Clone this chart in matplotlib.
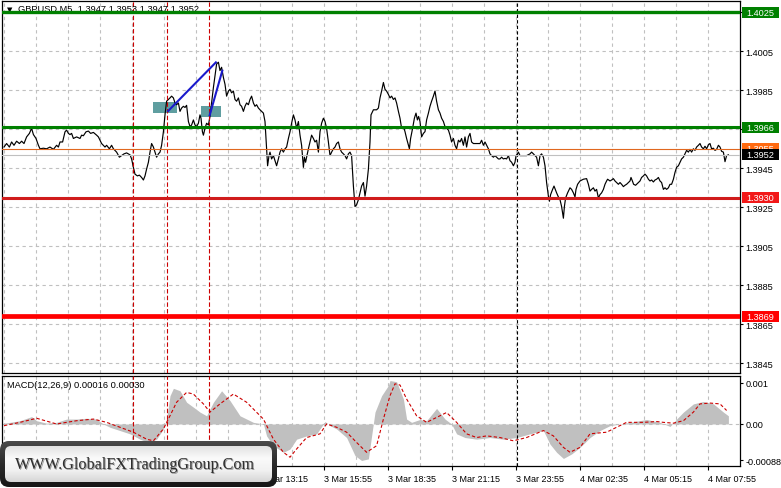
import matplotlib
matplotlib.use("Agg")
import matplotlib.pyplot as plt
import numpy as np
from matplotlib.transforms import blended_transform_factory
from matplotlib.patches import FancyBboxPatch, Rectangle
from matplotlib.colors import LinearSegmentedColormap

plt.rcParams['font.family'] = ['Liberation Sans', 'DejaVu Sans']

W, H = 781, 489

# ---------------- data ----------------
symbol_header = "GBPUSD,M5  1.3947 1.3953 1.3947 1.3952"
macd_header = "MACD(12,26,9) 0.00016 0.00030"
watermark = "WWW.GlobalFXTradingGroup.Com"

# (bar index, close) - bar 0 = 3 Mar 02:35, M5 bars
price_path_1 = [
    (0, 1.39559), (1.3, 1.39577), (2.7, 1.39559), (3.8, 1.39585), (5, 1.39568), (6.3, 1.39589),
    (7.7, 1.39577), (8.8, 1.39589), (10, 1.39577), (11.3, 1.39611), (12.7, 1.39629), (13.8, 1.39655),
    (14.7, 1.39623), (16, 1.39603), (17.2, 1.39568), (18, 1.39550), (19.7, 1.39553), (21.3, 1.39550),
    (23, 1.39559), (24.7, 1.39547), (26.3, 1.39568), (27.2, 1.39559), (28, 1.39585), (29.3, 1.39585),
    (30.5, 1.39637), (31.3, 1.39646), (32.2, 1.39629), (33, 1.39623), (33.8, 1.39629), (34.7, 1.39603),
    (36.3, 1.39611), (38, 1.39603), (38.8, 1.39620), (39.7, 1.39617), (41, 1.39637), (42.2, 1.39641),
    (43.3, 1.39629), (44.7, 1.39634), (46.3, 1.39620), (47.2, 1.39611), (48, 1.39594), (48.8, 1.39577),
    (50.5, 1.39559), (51.3, 1.39568), (52.7, 1.39550), (53.8, 1.39568), (54.7, 1.39550), (56.3, 1.39533),
    (57.7, 1.39507), (58.8, 1.39515), (60, 1.39524), (61.3, 1.39529), (63, 1.39519), (63.8, 1.39498),
    (64.7, 1.39455), (65.5, 1.39420), (66.7, 1.39411), (67.7, 1.39415), (68.8, 1.39403), (69.7, 1.39390),
    (70.5, 1.39411), (71.3, 1.39446), (72.2, 1.39481), (73, 1.39533), (73.8, 1.39577), (74.7, 1.39559),
    (75.5, 1.39533), (76.3, 1.39507), (77.2, 1.39524), (78, 1.39533), (78.8, 1.39568), (79.7, 1.39637),
    (80.5, 1.39724), (81.3, 1.39794), (82.2, 1.39803), (83, 1.39811), (83.8, 1.39820), (84.7, 1.39811),
    (85.5, 1.39785), (86.3, 1.39776), (87.2, 1.39785), (88, 1.39742), (88.8, 1.39759), (89.7, 1.39768),
    (90.5, 1.39762), (91.3, 1.39773),
]
price_path_2 = [
    (92.2, 1.39690), (93, 1.39664), (93.8, 1.39672), (94.7, 1.39698), (95.5, 1.39672), (96.3, 1.39664),
    (97.2, 1.39681), (98, 1.39724), (98.5, 1.39707), (99.2, 1.39638), (99.7, 1.39620), (100.5, 1.39655),
    (101.3, 1.39681), (102.2, 1.39672), (103, 1.39716), (103.8, 1.39785), (104.7, 1.39864), (105.5, 1.39925),
    (106.3, 1.39985), (107.2, 1.39994), (108, 1.39951), (108.8, 1.39968), (109.7, 1.39916), (110.5, 1.39881),
    (111.3, 1.39820), (112.2, 1.39846), (113, 1.39855), (113.8, 1.39837), (114.7, 1.39846), (115.5, 1.39803),
    (116.3, 1.39794), (117.2, 1.39811), (118, 1.39776), (118.8, 1.39768), (119.7, 1.39742), (120.5, 1.39768),
    (121.3, 1.39785), (122.2, 1.39776), (123, 1.39803), (123.8, 1.39820), (124.7, 1.39785), (125.5, 1.39768),
    (126.3, 1.39776), (127.2, 1.39759), (128, 1.39750), (129.7, 1.39733), (130.5, 1.39690), (131.3, 1.39550),
    (131.8, 1.39463), (132.5, 1.39515), (133, 1.39533), (133.8, 1.39498), (134.7, 1.39515), (135.5, 1.39489),
    (136.3, 1.39463), (137.2, 1.39498), (138, 1.39533), (138.8, 1.39550), (139.7, 1.39533), (140.5, 1.39550),
    (141.3, 1.39559), (142.2, 1.39603), (143, 1.39637), (143.8, 1.39681), (144.7, 1.39724), (145.5, 1.39698),
    (146.3, 1.39655), (147.2, 1.39690), (148, 1.39620), (148.8, 1.39568), (149.7, 1.39455), (150.2, 1.39507),
    (150.8, 1.39481), (151.3, 1.39507), (152.2, 1.39550), (153, 1.39585), (153.8, 1.39620), (154.7, 1.39603),
    (155.5, 1.39585), (156.3, 1.39594), (157.2, 1.39533), (158, 1.39637), (158.8, 1.39681), (159.7, 1.39707),
    (160.5, 1.39690), (161.3, 1.39655), (162.2, 1.39585), (163, 1.39515), (163.8, 1.39533), (164.7, 1.39550),
    (165.5, 1.39559), (166.3, 1.39577), (167.2, 1.39585), (168, 1.39550), (168.8, 1.39533), (169.7, 1.39524),
    (170.5, 1.39515), (171.3, 1.39498), (172.2, 1.39524), (173, 1.39533), (173.8, 1.39515), (174.7, 1.39359),
    (175.5, 1.39254), (176.3, 1.39263), (177.2, 1.39289), (178, 1.39324), (178.8, 1.39359), (179.7, 1.39377),
    (180.5, 1.39307), (181.3, 1.39359), (182.2, 1.39446), (183, 1.39585), (183.5, 1.39724),
]
price_path_3 = [
    (184.7, 1.39750), (186.3, 1.39750), (187.2, 1.39759), (188, 1.39811), (188.8, 1.39846), (189.7, 1.39890),
    (190.5, 1.39855), (191.3, 1.39846), (192.2, 1.39829), (193, 1.39811), (193.8, 1.39820), (194.7, 1.39803),
    (195.5, 1.39811), (196.3, 1.39785), (197.2, 1.39742), (198, 1.39707), (198.8, 1.39655), (199.7, 1.39664),
    (200.5, 1.39638), (201.3, 1.39603), (202.2, 1.39568), (202.7, 1.39550), (203.3, 1.39603), (204.3, 1.39655),
    (205.2, 1.39707), (206, 1.39733), (206.7, 1.39698), (207.3, 1.39716), (208, 1.39690), (208.8, 1.39611),
    (209.7, 1.39629), (210.5, 1.39638), (211.3, 1.39698), (212.2, 1.39733), (213, 1.39768), (213.8, 1.39794),
    (214.7, 1.39820), (215.5, 1.39846), (216.3, 1.39794), (217.2, 1.39750), (218, 1.39733), (218.8, 1.39707),
    (219.7, 1.39690), (220.5, 1.39664), (221.3, 1.39655), (222.2, 1.39646), (223, 1.39620), (223.8, 1.39585),
    (224.7, 1.39603), (225.5, 1.39568), (226.3, 1.39550), (227.2, 1.39594), (228, 1.39585), (228.8, 1.39603),
    (229.7, 1.39568), (230.5, 1.39611), (231.3, 1.39559), (232.2, 1.39611), (233, 1.39629), (233.8, 1.39585),
    (234.7, 1.39577), (236.3, 1.39577), (238, 1.39577), (238.8, 1.39594), (239.7, 1.39568), (240.5, 1.39585),
    (241.3, 1.39568), (242.2, 1.39550), (243, 1.39524), (243.8, 1.39515), (244.7, 1.39507), (245.5, 1.39515),
    (246.3, 1.39507), (247.2, 1.39498), (248, 1.39498), (248.8, 1.39507), (249.7, 1.39498), (250.5, 1.39501),
    (251.3, 1.39498), (252.2, 1.39515), (253, 1.39489), (253.8, 1.39481), (254.7, 1.39463), (255.5, 1.39481),
    (256, 1.39515), (256.7, 1.39524), (257.2, 1.39533), (258, 1.39515), (259.7, 1.39515), (261.3, 1.39515),
    (263, 1.39524), (263.8, 1.39533), (264.7, 1.39524), (265.5, 1.39515), (266.3, 1.39507), (267.2, 1.39463),
    (268, 1.39515), (268.8, 1.39524), (269.7, 1.39507), (270.5, 1.39463), (271.3, 1.39377), (272.2, 1.39307),
    (272.7, 1.39281), (273.3, 1.39315), (274.3, 1.39342), (275, 1.39359),
]
price_path_4 = [
    (276.3, 1.39324), (277.2, 1.39303), (278, 1.39289), (278.8, 1.39254), (279.7, 1.39194), (280.2, 1.39254),
    (280.8, 1.39298), (281.8, 1.39324), (283, 1.39350), (283.8, 1.39342), (284.7, 1.39324), (285.5, 1.39303),
    (286, 1.39342), (286.8, 1.39368), (288, 1.39385), (289.7, 1.39394), (291.3, 1.39397), (292.2, 1.39368),
    (293, 1.39333), (293.8, 1.39342), (294.7, 1.39350), (295.5, 1.39333), (296.3, 1.39342), (297.2, 1.39298),
    (298, 1.39315), (298.8, 1.39324), (299.7, 1.39342), (300.5, 1.39368), (301.3, 1.39385), (301.8, 1.39394),
    (303, 1.39385), (303.8, 1.39390), (304.7, 1.39397), (305.5, 1.39385), (306.3, 1.39377), (307.2, 1.39368),
    (308, 1.39377), (308.8, 1.39368), (309.7, 1.39356), (310.5, 1.39363), (311.3, 1.39368), (312.2, 1.39377),
    (313, 1.39385), (313.5, 1.39403), (314.2, 1.39385), (314.8, 1.39368), (315.8, 1.39363), (317.2, 1.39377),
    (318, 1.39385), (318.8, 1.39403), (319.7, 1.39411), (320.5, 1.39420), (321.3, 1.39411), (322.2, 1.39394),
    (323, 1.39385), (323.8, 1.39390), (324.7, 1.39380), (325.5, 1.39390), (326.3, 1.39394), (327.2, 1.39403),
    (328, 1.39385), (328.8, 1.39377), (329.7, 1.39342), (330.5, 1.39350), (331.3, 1.39342), (332.2, 1.39350),
    (333, 1.39368), (333.8, 1.39368), (334.7, 1.39394), (335.5, 1.39429), (336.3, 1.39455), (337.2, 1.39463),
    (338, 1.39481), (338.8, 1.39498), (339.7, 1.39507), (340.5, 1.39524), (341.3, 1.39542), (342.2, 1.39533),
    (343, 1.39547), (343.8, 1.39533), (344.7, 1.39550), (345.5, 1.39542), (346.3, 1.39559), (347.2, 1.39568),
    (348, 1.39577), (348.8, 1.39559), (349.7, 1.39550), (350.5, 1.39563), (351.3, 1.39550), (352.2, 1.39571),
    (353, 1.39577), (353.8, 1.39550), (354.7, 1.39553), (355.5, 1.39542), (356.3, 1.39547), (357.2, 1.39568),
    (358, 1.39559), (358.8, 1.39537), (359.7, 1.39533), (360.5, 1.39484), (361.3, 1.39515), (362.2, 1.39519),
]

# MACD main (histogram) and signal (bar index, value)
macd_main = [
    (0, 0.00002), (3, 0.00004), (8, 0.00008), (13.8, 0.00018), (16.3, 0.00008), (21.3, 0.00002),
    (26.3, 0.00004), (31.3, 0.00012), (36.3, 0.00012), (41.3, 0.00014), (46.3, 0.00012), (49.7, 0.0),
    (53, -0.00008), (58, -0.00016), (63, -0.00024), (68, -0.00037), (72.2, -0.00045), (76.3, -0.00037),
    (79.7, -0.00012), (81.3, 0.00012), (83, 0.00069), (84.7, 0.00087), (88, 0.00081), (91.3, 0.00053),
    (94.7, 0.00041), (98, 0.00029), (101.3, 0.00020), (104.7, 0.00053), (108.8, 0.00081), (113, 0.00057),
    (118, 0.00020), (124.7, 0.00004), (129.7, 0.0), (131.3, -0.00029), (134.7, -0.00053), (139.7, -0.00069),
    (143, -0.00061), (146.3, -0.00037), (151.3, -0.00029), (156.3, -0.00024), (160.5, 0.00006), (163, -0.00004),
    (166.3, -0.00012), (171.3, -0.00033), (175.5, -0.00077), (178.8, -0.00089), (182.2, -0.00085),
    (183.8, -0.00029), (185.5, 0.00029), (188.8, 0.00069), (192.2, 0.00094), (193, 0.00106), (196.3, 0.00103),
    (199.7, 0.00061), (201.3, 0.00012), (203.8, 0.00004), (208, 0.00011), (211.3, 0.00008), (216.3, 0.00038),
    (220.5, 0.00012), (223.8, 0.0), (226.3, -0.00024), (230.5, -0.00033), (236.3, -0.00037), (243, -0.00033),
    (249.7, -0.00037), (256.3, -0.00033), (263, -0.00024), (269.7, -0.00016), (273, -0.00049), (276.3, -0.00069),
    (279.7, -0.00084), (283.8, -0.00073), (288, -0.00057), (293, -0.00033), (298, -0.00016), (303, -0.00004),
    (308, 0.0), (313, 0.00004), (321.3, 0.00011), (328, 0.00004), (333, -0.00006), (336.3, 0.00012),
    (339.7, 0.00029), (344.7, 0.00049), (349.7, 0.00055), (354.7, 0.00049), (359.7, 0.00029), (362.2, 0.00020),
]
macd_signal = [
    (0, -0.00004), (8, 0.00004), (16.3, 0.00014), (26.3, 0.0), (36.3, 0.00008), (44.7, 0.00012),
    (51.3, 0.00004), (58, -0.00008), (64.7, -0.00020), (71.3, -0.00037), (74.7, -0.00041), (79.7, -0.00012),
    (83, 0.00020), (86.3, 0.00053), (91.3, 0.00077), (94.7, 0.00073), (99.7, 0.00049), (103, 0.00029),
    (108, 0.00049), (114.7, 0.00073), (121.3, 0.00053), (129.7, 0.00012), (134.7, -0.00037), (139.7, -0.00069),
    (143, -0.00081), (146.3, -0.00061), (151.3, -0.00033), (158, -0.00024), (161.3, 0.0), (166.3, -0.00008),
    (171.3, -0.00020), (176.3, -0.00045), (181.3, -0.00069), (186.3, -0.00053), (189.7, 0.00012),
    (193, 0.00069), (195.5, 0.00098), (198, 0.00095), (201.3, 0.00061), (206.3, 0.00020), (211.3, 0.00004),
    (216.3, 0.00016), (221.3, 0.00028), (226.3, 0.00004), (231.3, -0.00024), (236.3, -0.00033),
    (241.3, -0.00029), (248, -0.00033), (254.7, -0.00041), (261.3, -0.00033), (269.7, -0.00016),
    (274.7, -0.00029), (279.7, -0.00057), (283, -0.00069), (288, -0.00057), (293, -0.00024), (301.3, -0.00020),
    (306.3, -0.00008), (311.3, 0.00004), (319.7, 0.00004), (326.3, 0.00006), (329.7, 0.00004),
    (334.7, 0.00002), (339.7, 0.00008), (344.7, 0.00029), (348, 0.00049), (353, 0.00051), (358, 0.00049),
    (361.3, 0.00033),
]

level_prices = [1.4025, 1.3966, 1.3930, 1.3869]
level_colors = ['#008000', '#008000', '#d01c1c', '#ff0000']
level_box_colors = ['#008000', '#008000', '#f21818', '#ff0000']
ask_price = 1.3955
bid_price = 1.3952

price_ticks = [1.4025, 1.4005, 1.3985, 1.3965, 1.3945, 1.3925, 1.3905, 1.3885, 1.3865, 1.3845]
hidden_tick_labels = [1.4025, 1.3965]   # covered by the level boxes in the terminal
macd_ticks = [0.001, 0.0, -0.00088]
macd_tick_labels = ['0.001', '0.00', '-0.00088']
time_tick_bars = [0, 32, 64, 96, 128, 160, 192, 224, 256, 288, 320, 352]
time_tick_labels = ['3 Mar 02:35', '3 Mar 05:15', '3 Mar 07:55', '3 Mar 10:35', '3 Mar 13:15',
                    '3 Mar 15:55', '3 Mar 18:35', '3 Mar 21:15', '3 Mar 23:55', '4 Mar 02:35',
                    '4 Mar 05:15', '4 Mar 07:55']

signal_bars = [64.5, 81.5, 102.5]
day_separator_bar = 256.3
trend_line_1 = [(81.7, 1.39740), (106.3, 1.39997)]
trend_line_2 = [(102.7, 1.39717), (109.3, 1.39956)]
zone_1 = (74.3, 86.3, 1.39734, 1.39792)
zone_2 = (98.5, 108.5, 1.39715, 1.39771)

# ---------------- figure ----------------
fig = plt.figure(figsize=(W / 100, H / 100), dpi=100)
fig.patch.set_facecolor('white')


def frame(x0, y0, x1, y1):
    return [x0 / W, 1 - y1 / H, (x1 - x0) / W, (y1 - y0) / H]


ax = fig.add_axes(frame(2, 2, 740, 374))
ax2 = fig.add_axes(frame(2, 377, 740, 467))

XMIN, XMAX = -1, 368
PX_PER_UNIT = 19500.0
ax.set_xlim(XMIN, XMAX)
ax.set_ylim(1.40050 - 321.7 / PX_PER_UNIT, 1.40050 + 50.3 / PX_PER_UNIT)
ax2.set_xlim(XMIN, XMAX)
ax2.set_ylim(-0.001024, 0.00117)

grid_kw = dict(color='#c0c0c0', linestyle=(0, (3, 3)), linewidth=0.8)

for a in (ax, ax2):
    for s in a.spines.values():
        s.set_color('black')
        s.set_linewidth(0.9)
    a.set_axisbelow(True)

# main panel ticks / grid
ax.yaxis.tick_right()
ax.set_yticks(price_ticks)
ax.set_yticklabels(['' if t in hidden_tick_labels else f'{t:.4f}' for t in price_ticks])
ax.tick_params(axis='y', direction='out', length=2.2, width=0.8, pad=1.5, labelsize=6.6, colors='black')
ax.set_xticks(np.arange(0, XMAX, 16))
ax.tick_params(axis='x', length=0, labelbottom=False)
ax.grid(True, **grid_kw)

# macd panel ticks / grid
ax2.yaxis.tick_right()
ax2.set_yticks(macd_ticks)
ax2.set_yticklabels(macd_tick_labels)
ax2.tick_params(axis='y', direction='out', length=2.2, width=0.8, pad=1.5, labelsize=6.6)
ax2.set_xticks(time_tick_bars)
ax2.set_xticklabels(time_tick_labels, ha='left')
ax2.set_xticks(np.arange(16, XMAX, 32), minor=True)
ax2.tick_params(axis='x', which='major', direction='out', length=3, width=0.8, pad=2.5, labelsize=6.5)
ax2.tick_params(axis='x', which='minor', length=0)
ax2.grid(True, axis='x', which='both', **grid_kw)
ax2.axhline(0, **grid_kw, zorder=0.5)

# price series
path = price_path_1 + price_path_2 + price_path_3 + price_path_4
px = [p[0] for p in path]
py = [p[1] for p in path]

# zones (drawn below the price line)
for (x0, x1, y0, y1) in (zone_1, zone_2):
    ax.add_patch(Rectangle((x0, y0), x1 - x0, y1 - y0, facecolor='#5f9ea0', edgecolor='none', zorder=1.5))

ax.plot(px, py, color='black', lw=0.85, zorder=2)

# horizontal levels
level_widths = [2.4, 2.2, 2.2, 3.4]
for lv, c, lw in zip(level_prices, level_colors, level_widths):
    ax.axhline(lv, color=c, lw=lw, zorder=4)
ax.axhline(ask_price, color='#e0671f', lw=0.8, zorder=3.6)
ax.axhline(bid_price, color='#c0c0c0', lw=0.8, zorder=3.5)

# trend lines
for tl in (trend_line_1, trend_line_2):
    ax.plot([tl[0][0], tl[1][0]], [tl[0][1], tl[1][1]], color='#1a1acc', lw=1.5, zorder=4.5,
            solid_capstyle='butt')

# vertical markers
for a in (ax, ax2):
    for b in signal_bars:
        a.axvline(b, color='#cc0000', lw=0.8, linestyle=(0, (4, 2)), zorder=3)
    a.axvline(day_separator_bar, color='black', lw=0.8, linestyle=(0, (3, 2)), zorder=3)

# MACD
mx = [p[0] for p in macd_main]
my = [p[1] for p in macd_main]
ax2.fill_between(mx, 0, my, color='#c0c0c0', lw=0, zorder=1.5)
sx = [p[0] for p in macd_signal]
sy = [p[1] for p in macd_signal]
ax2.plot(sx, sy, color='#cc0000', lw=0.8, linestyle=(0, (3, 2)), zorder=2)

# right-side price boxes
bt = blended_transform_factory(ax.transAxes, ax.transData)
bx0 = (742 - 2) / 738.0
bx1 = (779 - 2) / 738.0
bh = 11 / PX_PER_UNIT


def price_box(price, face, txt_color='white', z=6):
    ax.add_patch(Rectangle((bx0, price - bh / 2), bx1 - bx0, bh, transform=bt, facecolor=face,
                           edgecolor='none', clip_on=False, zorder=z))
    ax.text((bx0 + bx1) / 2, price, f'{price:.4f}', transform=bt, ha='center', va='center',
            fontsize=6.6, color=txt_color, clip_on=False, zorder=z + 0.1)


for lv, c in zip(level_prices, level_box_colors):
    price_box(lv, c)
price_box(ask_price, '#ff6a10', z=6.2)
price_box(bid_price, 'black', z=6.4)

# header texts
ax.text(7 / W, 1 - 10 / H, '\u25bc', transform=fig.transFigure, fontsize=5, va='center', ha='left',
        color='black', family=['DejaVu Sans'], zorder=3.8)
ax.text(18 / W, 1 - 9.5 / H, symbol_header, transform=fig.transFigure, fontsize=6.7, va='center',
        ha='left', color='black', zorder=3.8)
ax2.text(7 / W, 1 - 385.5 / H, macd_header, transform=fig.transFigure, fontsize=6.7, va='center',
         ha='left', color='black', zorder=5)

# watermark overlay (pixel coordinates)
ov = fig.add_axes([0, 0, 1, 1])
ov.set_zorder(20)
ov.patch.set_alpha(0)
outer = FancyBboxPatch((0, 442), 277, 46, boxstyle='round,pad=0,rounding_size=9',
                       facecolor='none', edgecolor='none')
inner = FancyBboxPatch((5, 447), 267, 36, boxstyle='round,pad=0,rounding_size=6',
                       facecolor='none', edgecolor='none')
ov.add_patch(outer)
ov.add_patch(inner)
grad = np.linspace(0, 1, 128).reshape(-1, 1)
cm_out = LinearSegmentedColormap.from_list('o', ['#4a4a4a', '#2a2a2a', '#161616'])
cm_in = LinearSegmentedColormap.from_list('i', ['#e2e2e2', '#fafafa', '#f2f2f2', '#d6d6d6'])
im1 = ov.imshow(grad, extent=(0, 277, 488, 442), cmap=cm_out, aspect='auto', interpolation='bilinear')
im1.set_clip_path(outer)
im2 = ov.imshow(grad, extent=(5, 272, 483, 447), cmap=cm_in, aspect='auto', interpolation='bilinear')
im2.set_clip_path(inner)
ov.text(15.8, 469.8, watermark, family=['Liberation Serif', 'DejaVu Serif'], fontsize=11.6,
        color='#9a9a9a', ha='left', va='baseline')
ov.text(15, 469, watermark, family=['Liberation Serif', 'DejaVu Serif'], fontsize=11.6,
        color='#2e2e2e', ha='left', va='baseline')
ov.set_xlim(0, W)
ov.set_ylim(H, 0)
ov.axis('off')

fig.savefig('out.png', dpi=100, facecolor='white')
